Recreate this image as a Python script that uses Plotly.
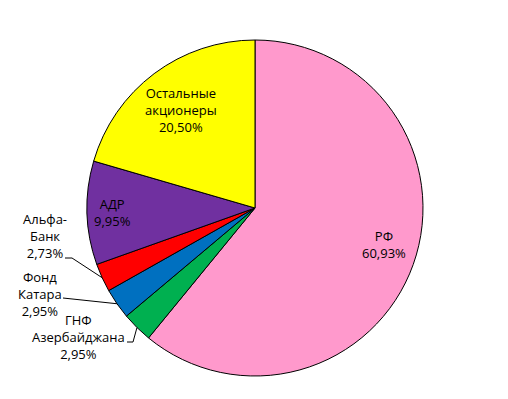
import math
import plotly.graph_objects as go

labels = ["РФ", "ГНФ Азербайджана", "Фонд Катара", "Альфа-Банк", "АДР", "Остальные акционеры"]
values = [60.93, 2.95, 2.95, 2.73, 9.95, 20.50]
label_texts = ["РФ", "ГНФ<br>Азербайджана", "Фонд<br>Катара", "Альфа-<br>Банк", "АДР", "Остальные<br>акционеры"]
colors = ["#FF99CC", "#00B050", "#0070C0", "#FF0000", "#7030A0", "#FFFF00"]

W, H = 508, 399
CX, CY, R = 255, 208, 168
FONT = dict(family="Open Sans", size=13, color="#000000")


def fx(px):
    return px / W


def fy(py):
    return 1 - py / H


fig = go.Figure()
fig.add_trace(go.Pie(
    labels=labels,
    values=values,
    sort=False,
    direction="clockwise",
    rotation=0,
    marker=dict(colors=colors, line=dict(color="#000000", width=1)),
    textinfo="none",
    hoverinfo="label+percent",
    showlegend=False,
    domain=dict(x=[fx(CX - R), fx(CX + R)], y=[fy(CY + R), fy(CY - R)]),
))

total = sum(values)
mids = []
acc = 0
for v in values:
    mids.append((acc + v / 2) / total * 2 * math.pi)
    acc += v


def fmt(v):
    return f"{v:.2f}".replace(".", ",") + "%"


def polar(i, rf, dang=0.0):
    a = mids[i] + math.radians(dang)
    return CX + rf * R * math.sin(a), CY - rf * R * math.cos(a)


annotations = []
# inside labels (radius factor, angle offset in degrees)
inside = {0: (0.80, -4.0), 4: (0.85, 0.0), 5: (0.73, 0.0)}
for i, (rf, da) in inside.items():
    x, y = polar(i, rf, da)
    annotations.append(dict(x=fx(x), y=fy(y), xref="paper", yref="paper",
                            xanchor="center", yanchor="middle",
                            text=label_texts[i] + "<br>" + fmt(values[i]),
                            showarrow=False, font=FONT, align="center"))

# outside labels: text centre, leader start, elbow x
outside = {
    3: dict(pos=(45, 236), start=(65, 258), elbow=72),
    2: dict(pos=(40, 294), start=(63, 298), elbow=63),
    1: dict(pos=(78, 337), start=(127, 342), elbow=133),
}
shapes = []
for i, o in outside.items():
    x, y = o["pos"]
    annotations.append(dict(x=fx(x), y=fy(y), xref="paper", yref="paper",
                            xanchor="center", yanchor="middle",
                            text=label_texts[i] + "<br>" + fmt(values[i]),
                            showarrow=False, font=FONT, align="center"))
    ex, ey = polar(i, 1.0)
    sx, sy = o["start"]
    path = f"M {fx(sx)} {fy(sy)} L {fx(o['elbow'])} {fy(sy)} L {fx(ex)} {fy(ey)}"
    shapes.append(dict(type="path", xref="paper", yref="paper", path=path,
                       line=dict(color="#000000", width=1)))

fig.update_layout(
    width=W, height=H,
    margin=dict(l=0, r=0, t=0, b=0),
    paper_bgcolor="white",
    plot_bgcolor="white",
    annotations=annotations,
    shapes=shapes,
)

fig.write_html("out.html")
